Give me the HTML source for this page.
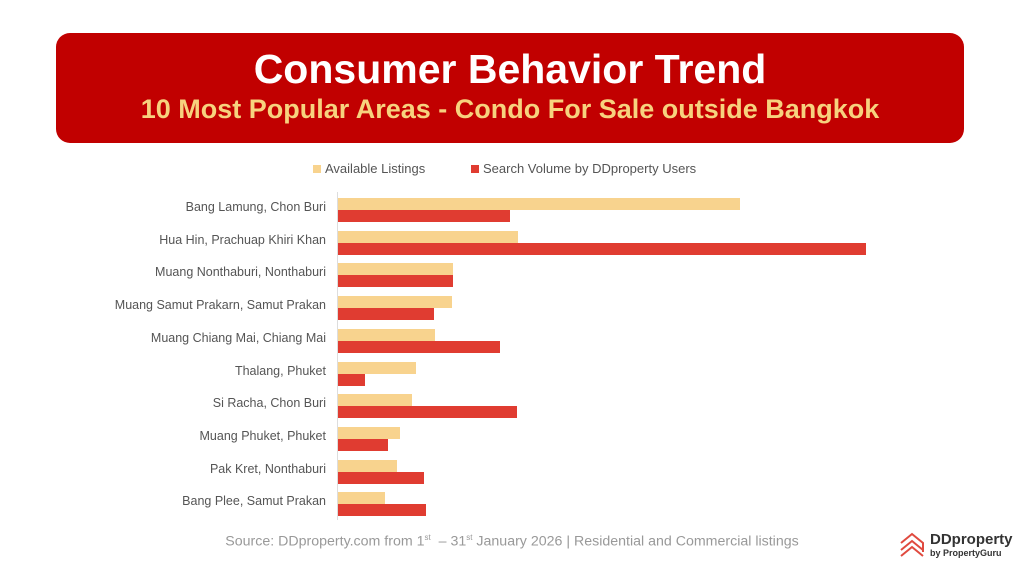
<!DOCTYPE html>
<html><head><meta charset="utf-8"><style>
body{margin:0;width:1024px;height:576px;background:#fff;font-family:"Liberation Sans",sans-serif;position:relative;overflow:hidden}
.hdr{position:absolute;left:56px;top:33px;width:908px;height:110px;background:#c10000;border-radius:14px;text-align:center}
.t1{position:absolute;left:0;right:0;top:13px;color:#fff;font-weight:bold;font-size:41px}
.t2{position:absolute;left:0;right:0;top:61px;color:#f7d27e;font-weight:bold;font-size:27px}
.lab{position:absolute;right:698px;font-size:12.5px;color:#555;white-space:nowrap}
.b{position:absolute;left:338px;height:12px}
.y{background:#f8d38e}.r{background:#e03c31}
.src{position:absolute;left:0;width:1024px;top:533px;text-align:center;color:#999;font-size:14.2px}
</style></head><body>
<div class="hdr"><div class="t1">Consumer Behavior Trend</div><div class="t2">10 Most Popular Areas - Condo For Sale outside Bangkok</div></div>
<div style="position:absolute;left:313px;top:161px;font-size:13px;color:#555"><span style="display:inline-block;width:8px;height:8px;background:#f8d38e;margin-right:4px"></span>Available Listings</div>
<div style="position:absolute;left:471px;top:161px;font-size:13px;color:#555"><span style="display:inline-block;width:8px;height:8px;background:#e03c31;margin-right:4px"></span>Search Volume by DDproperty Users</div>
<div style="position:absolute;left:337px;top:192px;width:1px;height:328px;background:#ddd"></div>
<div id="c"></div>
<script>
var d=[["Bang Lamung, Chon Buri",740,510],["Hua Hin, Prachuap Khiri Khan",518,866],["Muang Nonthaburi, Nonthaburi",453,453],["Muang Samut Prakarn, Samut Prakan",452,434],["Muang Chiang Mai, Chiang Mai",435,500],["Thalang, Phuket",416,365],["Si Racha, Chon Buri",412,517],["Muang Phuket, Phuket",400,388],["Pak Kret, Nonthaburi",397,424],["Bang Plee, Samut Prakan",385,426]];
var h="";d.forEach(function(e,i){var c=209+i*32.7;
h+='<div class="lab" style="top:'+(c-9)+'px">'+e[0]+'</div>';
h+='<div class="b y" style="top:'+(c-11)+'px;width:'+(e[1]-338)+'px"></div>';
h+='<div class="b r" style="top:'+(c+1)+'px;width:'+(e[2]-338)+'px"></div>';});
document.getElementById("c").innerHTML=h;
</script>
<div class="src">Source: DDproperty.com from 1<sup style="font-size:8px">st</sup> &nbsp;– 31<sup style="font-size:8px">st</sup> January 2026 | Residential and Commercial listings</div>
<svg style="position:absolute;left:898px;top:530px" width="28" height="28" viewBox="0 0 28 28"><g fill="none" stroke="#e04a3f" stroke-width="2"><path d="M3 13 L14 4 L25 13 V22"/><path d="M3 20 L14 11 L25 20"/><path d="M3 26 L14 17 L25 26"/></g></svg>
<div style="position:absolute;left:930px;top:531px;font-size:15px;font-weight:bold;color:#333">DDproperty</div>
<div style="position:absolute;left:930px;top:548px;font-size:9px;font-weight:bold;color:#333">by PropertyGuru</div>
</body></html>
